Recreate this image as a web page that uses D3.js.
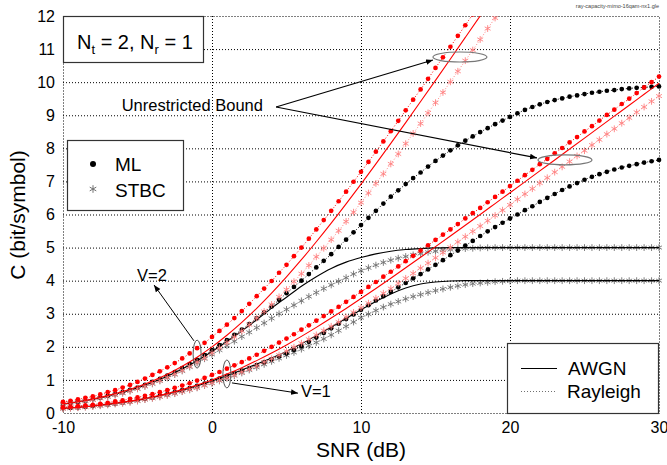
<!DOCTYPE html>
<html><head><meta charset="utf-8">
<script src="https://cdn.jsdelivr.net/npm/d3@7"></script>
<style>
body{margin:0;background:#fff}
svg{display:block}
text{font-family:"Liberation Sans",Arial,Helvetica,sans-serif}
</style>
</head><body>
<svg id="chart" width="667" height="465"></svg>
<script>
// ---------- data ----------
const snrFine = [-10,-9.5,-9,-8.5,-8,-7.5,-7,-6.5,-6,-5.5,-5,-4.5,-4,-3.5,-3,-2.5,-2,-1.5,-1,-0.5,0,0.5,1,1.5,2,2.5,3,3.5,4,4.5,5,5.5,6,6.5,7,7.5,8,8.5,9,9.5,10,10.5,11,11.5,12,12.5,13,13.5,14,14.5,15,15.5,16,16.5,17,17.5,18,18.5,19,19.5,20,20.5,21,21.5,22,22.5,23,23.5,24,24.5,25,25.5,26,26.5,27,27.5,28,28.5,29,29.5,30];
const snrCoarse = [-10,-9,-8,-7,-6,-5,-4,-3,-2,-1,0,1,2,3,4,5,6,7,8,9,10,11,12,13,14,15,16,17,18,19,20,21,22,23,24,25,26,27,28,29,30];
const xTicks = [-10,0,10,20,30];
const yTicks = [0,1,2,3,4,5,6,7,8,9,10,11,12];

// Unrestricted bounds
const awgnBoundV1 = [0.138,0.171,0.212,0.263,0.324,0.396,0.483,0.586,0.706,0.844,1.0,1.176,1.370,1.583,1.812,2.057,2.316,2.588,2.870,3.161,3.459,3.764,4.075,4.389,4.707,5.028,5.351,5.676,6.002,6.330,6.658,6.987,7.317,7.648,7.978,8.309,8.641,8.972,9.303,9.635,9.967];
const awgnBoundV2 = [0.275,0.342,0.425,0.526,0.648,0.792,0.967,1.172,1.411,1.687,2.0,2.351,2.740,3.165,3.624,4.115,4.633,5.176,5.740,6.322,6.919,7.529,8.149,8.778,9.414,10.056,10.702,11.352,12.004,12.660];
const mlBoundV1 = [0.17,0.19,0.21,0.23,0.25,0.28,0.31,0.35,0.38,0.43,0.47,0.52,0.57,0.63,0.69,0.76,0.83,0.90,0.98,1.06,1.15,1.24,1.34,1.44,1.54,1.65,1.76,1.88,2.00,2.13,2.25,2.38,2.52,2.65,2.79,2.93,3.07,3.21,3.36,3.51,3.66,3.81,3.96,4.12,4.27,4.43,4.59,4.75,4.91,5.07,5.23,5.39,5.55,5.71,5.88,6.04,6.20,6.37,6.53,6.69,6.86,7.02,7.19,7.35,7.52,7.68,7.85,8.01,8.18,8.34,8.51,8.67,8.84,9.01,9.17,9.34,9.50,9.67,9.84,10.00,10.17];
const mlBoundV2 = [0.34,0.37,0.41,0.46,0.50,0.56,0.63,0.69,0.77,0.85,0.94,1.04,1.15,1.26,1.38,1.51,1.65,1.80,1.96,2.12,2.30,2.48,2.67,2.87,3.08,3.30,3.53,3.76,3.99,4.24,4.48,4.74,5.00,5.27,5.55,5.83,6.11,6.40,6.69,6.99,7.29,7.59,7.90,8.21,8.52,8.83,9.15,9.47,9.78,10.10,10.43,10.75,11.07,11.40,11.72,12.05,12.37];
const stbcBoundV1 = [0.13,0.15,0.16,0.18,0.20,0.22,0.25,0.28,0.30,0.33,0.37,0.41,0.45,0.49,0.54,0.59,0.65,0.71,0.77,0.84,0.91,0.99,1.07,1.15,1.24,1.33,1.43,1.54,1.64,1.75,1.87,1.99,2.11,2.23,2.36,2.49,2.62,2.75,2.90,3.04,3.18,3.32,3.47,3.62,3.76,3.92,4.07,4.22,4.38,4.53,4.69,4.85,5.01,5.17,5.33,5.49,5.65,5.81,5.97,6.13,6.29,6.46,6.62,6.78,6.95,7.11,7.28,7.44,7.60,7.77,7.93,8.10,8.26,8.43,8.59,8.76,8.92,9.09,9.25,9.42,9.58];
const stbcBoundV2 = [0.27,0.29,0.33,0.37,0.40,0.45,0.50,0.55,0.61,0.67,0.74,0.81,0.90,0.98,1.08,1.18,1.29,1.41,1.54,1.67,1.82,1.97,2.13,2.30,2.48,2.67,2.87,3.07,3.28,3.51,3.73,3.97,4.21,4.46,4.72,4.98,5.24,5.51,5.79,6.07,6.36,6.65,6.94,7.23,7.53,7.83,8.14,8.45,8.75,9.07,9.38,9.69,10.01,10.33,10.65,10.97,11.29,11.62,11.94,12.26];

// Constellation-constrained capacities
const awgnV1 = [0.135,0.17,0.21,0.26,0.32,0.39,0.475,0.575,0.69,0.82,0.97,1.13,1.3,1.48,1.66,1.86,2.09,2.34,2.6,2.86,3.12,3.37,3.6,3.78,3.9,3.96,3.99,4,4,4,4,4,4,4,4,4,4,4,4,4,4];
const awgnV2 = [0.27,0.335,0.415,0.51,0.625,0.76,0.92,1.11,1.33,1.58,1.86,2.16,2.48,2.82,3.17,3.5,3.83,4.12,4.37,4.56,4.7,4.81,4.89,4.94,4.97,4.99,5,5,5,5,5,5,5,5,5,5,5,5,5,5,5];
const mlV1 = [0.14,0.155,0.17,0.19,0.21,0.235,0.26,0.29,0.32,0.355,0.39,0.43,0.47,0.52,0.57,0.63,0.69,0.75,0.82,0.89,0.97,1.04,1.12,1.2,1.28,1.36,1.45,1.53,1.62,1.71,1.8,1.91,2.02,2.15,2.28,2.42,2.56,2.7,2.84,2.98,3.12,3.26,3.4,3.53,3.66,3.8,3.93,4.07,4.2,4.34,4.48,4.62,4.77,4.91,5.06,5.2,5.35,5.49,5.62,5.75,5.88,6.0,6.13,6.25,6.38,6.5,6.62,6.74,6.85,6.95,7.05,7.14,7.22,7.29,7.36,7.42,7.47,7.52,7.57,7.61,7.65];
const mlV2 = [0.27,0.30,0.335,0.375,0.42,0.465,0.515,0.57,0.63,0.70,0.77,0.85,0.94,1.03,1.13,1.24,1.36,1.48,1.61,1.75,1.9,2.05,2.2,2.36,2.52,2.69,2.86,3.04,3.22,3.42,3.62,3.81,4.0,4.2,4.4,4.6,4.8,5.02,5.24,5.46,5.68,5.9,6.11,6.33,6.54,6.73,6.92,7.1,7.27,7.45,7.62,7.78,7.94,8.09,8.23,8.36,8.49,8.61,8.73,8.84,8.95,9.06,9.16,9.25,9.33,9.4,9.46,9.51,9.56,9.6,9.64,9.68,9.71,9.74,9.76,9.79,9.81,9.83,9.84,9.86,9.87];
const stbcV1 = [0.132,0.146,0.162,0.18,0.2,0.222,0.248,0.275,0.3,0.33,0.365,0.405,0.445,0.49,0.535,0.585,0.645,0.7,0.76,0.83,0.9,0.97,1.05,1.13,1.21,1.3,1.38,1.47,1.56,1.65,1.74,1.83,1.93,2.03,2.13,2.24,2.36,2.49,2.62,2.75,2.88,2.99,3.1,3.2,3.29,3.37,3.45,3.52,3.58,3.64,3.7,3.75,3.8,3.84,3.88,3.91,3.93,3.95,3.97,3.98,3.99,4,4,4,4,4,4,4,4,4,4,4,4,4,4,4,4,4,4,4,4];
const stbcV2 = [0.265,0.295,0.325,0.36,0.4,0.445,0.49,0.545,0.6,0.665,0.73,0.805,0.88,0.97,1.06,1.16,1.27,1.39,1.51,1.64,1.77,1.9,2.04,2.17,2.31,2.44,2.58,2.72,2.86,3.0,3.13,3.26,3.39,3.52,3.64,3.76,3.87,3.98,4.09,4.2,4.3,4.39,4.47,4.55,4.62,4.68,4.73,4.78,4.82,4.86,4.89,4.92,4.94,4.96,4.97,4.98,4.99,4.995,5,5,5,5,5,5,5,5,5,5,5,5,5,5,5,5,5,5,5,5,5,5,5];

// Annotations (data coordinates)
const boundLabel = {text:"Unrestricted Bound", at:[-6.06,9.13], origin:[4.3,9.25]};
const boundTargets = [{end:[14.83,10.67], ring:[16.64,10.76]}, {end:[21.81,7.71], ring:[23.69,7.65]}];
const vLabels = [
  {text:"V=2", at:[-5.03,3.99], arrowFrom:[-1.21,2.18], arrowTo:[-3.89,3.87], ring:[-1.0,1.78]},
  {text:"V=1", at:[5.97,0.48], arrowFrom:[1.34,0.91], arrowTo:[5.77,0.6], ring:[1.0,1.18]}
];

// ---------- drawing ----------
const L = 63, R = 659, T = 16, B = 413;
const svg = d3.select("#chart");
const x = d3.scaleLinear().domain([-10,30]).range([L,R]);
const y = d3.scaleLinear().domain([0,12]).range([B,T]);
const FONT = '"Liberation Sans",Arial,Helvetica,sans-serif';

const defs = svg.append("defs");
defs.append("clipPath").attr("id","plotclip").append("rect")
  .attr("x",L-5).attr("y",T).attr("width",R-L+10).attr("height",B-T+5);
defs.append("marker").attr("id","arrow").attr("viewBox","0 0 10 10")
  .attr("refX",10).attr("refY",5).attr("markerWidth",7).attr("markerHeight",7)
  .attr("markerUnits","userSpaceOnUse").attr("orient","auto")
  .append("path").attr("d","M0,1 L10,5 L0,9 Z").attr("fill","#000");

// grid
const grid = svg.append("g").attr("stroke","#000").attr("stroke-width",1).attr("stroke-dasharray","1,2");
grid.selectAll(".hg").data(yTicks.filter(t=>t>0&&t<12)).join("line")
  .attr("x1",L).attr("x2",R).attr("y1",d=>y(d)+0.5).attr("y2",d=>y(d)+0.5);
grid.selectAll(".vg").data(xTicks.filter(t=>t>-10&&t<30)).join("line")
  .attr("y1",T).attr("y2",B).attr("x1",d=>x(d)+0.5).attr("x2",d=>x(d)+0.5);
grid.append("rect").attr("x",L+0.5).attr("y",T+0.5).attr("width",R-L).attr("height",B-T).attr("fill","none");

// axes
const yAx = svg.append("g").attr("transform",`translate(${L},0)`)
  .call(d3.axisLeft(y).tickValues(yTicks).tickSize(0).tickPadding(8).tickFormat(d=>String(d)));
const xAx = svg.append("g").attr("transform",`translate(0,${B})`)
  .call(d3.axisBottom(x).tickValues(xTicks).tickSize(0).tickPadding(9).tickFormat(d=>String(d)));
[yAx,xAx].forEach(g=>{
  g.select(".domain").remove();
  g.attr("font-family",FONT).attr("font-size",16);
  g.selectAll("text").attr("fill","#000");
});

svg.append("text").attr("x",361).attr("y",457).attr("text-anchor","middle")
  .attr("font-size",21).text("SNR (dB)");
svg.append("text").attr("transform","translate(25,215) rotate(-90)").attr("text-anchor","middle")
  .attr("font-size",21).text("C (bit/symbol)");
svg.append("text").attr("x",659).attr("y",8).attr("text-anchor","end")
  .attr("font-size",5.5).attr("fill","#444").text("ray-capacity-mimo-16qam-nx1.gle");

// series
const plot = svg.append("g").attr("clip-path","url(#plotclip)");
const lineGen = d3.line().x(d=>x(d[0])).y(d=>y(d[1])).curve(d3.curveMonotoneX);
const star = d3.symbol(d3.symbolAsterisk, 32);
const starLegend = d3.symbol(d3.symbolAsterisk, 40);

function series(xs, vals, o){
  const pts = vals.map((v,i)=>[xs[i], v]);
  plot.append("path").datum(pts).attr("d",lineGen).attr("fill","none")
    .attr("stroke",o.color).attr("stroke-width",o.width||1)
    .attr("stroke-dasharray",o.dash||null);
  if(o.marker==="dot"){
    plot.append("g").selectAll("circle").data(pts).join("circle")
      .attr("cx",d=>x(d[0])).attr("cy",d=>y(d[1])).attr("r",2.35).attr("fill",o.color);
  } else if(o.marker==="star"){
    plot.append("g").selectAll("path").data(pts).join("path")
      .attr("transform",d=>`translate(${x(d[0])},${y(d[1])})`)
      .attr("d",star).attr("fill","none").attr("stroke",o.color).attr("stroke-width",0.9);
  }
}

const RED = "#ff0000", PINK = "#ff8080", GREY = "#707070";
// constrained (black)
series(snrFine, stbcV1, {color:GREY, dash:"1,2", marker:"star"});
series(snrFine, stbcV2, {color:GREY, dash:"1,2", marker:"star"});
series(snrCoarse, awgnV1, {color:"#000", width:1.1});
series(snrCoarse, awgnV2, {color:"#000", width:1.1});
series(snrFine, mlV1, {color:"#000", dash:"1,2", marker:"dot"});
series(snrFine, mlV2, {color:"#000", dash:"1,2", marker:"dot"});
// unrestricted (red)
series(snrFine, stbcBoundV1, {color:PINK, dash:"1,2", marker:"star"});
series(snrFine, stbcBoundV2, {color:PINK, dash:"1,2", marker:"star"});
series(snrCoarse, awgnBoundV1, {color:RED, width:1.1});
series(snrCoarse, awgnBoundV2, {color:RED, width:1.1});
series(snrFine, mlBoundV1, {color:RED, dash:"1,2", marker:"dot"});
series(snrFine, mlBoundV2, {color:RED, dash:"1,2", marker:"dot"});

// annotations
const ann = svg.append("g");
ann.append("text").attr("x",x(boundLabel.at[0])).attr("y",y(boundLabel.at[1]))
  .attr("font-size",16.5).text(boundLabel.text);
boundTargets.forEach(t=>{
  ann.append("ellipse").attr("cx",x(t.ring[0])).attr("cy",y(t.ring[1]))
    .attr("rx",27).attr("ry",5).attr("fill","none").attr("stroke","#777").attr("stroke-width",1.2);
  ann.append("line").attr("x1",x(boundLabel.origin[0])).attr("y1",y(boundLabel.origin[1]))
    .attr("x2",x(t.end[0])).attr("y2",y(t.end[1])).attr("stroke","#000").attr("stroke-width",1.2)
    .attr("marker-end","url(#arrow)");
});
vLabels.forEach(v=>{
  ann.append("ellipse").attr("cx",x(v.ring[0])).attr("cy",y(v.ring[1]))
    .attr("rx",4).attr("ry",14).attr("fill","none").attr("stroke","#555").attr("stroke-width",1);
  ann.append("line").attr("x1",x(v.arrowFrom[0])).attr("y1",y(v.arrowFrom[1]))
    .attr("x2",x(v.arrowTo[0])).attr("y2",y(v.arrowTo[1])).attr("stroke","#000").attr("stroke-width",1)
    .attr("marker-end","url(#arrow)");
  ann.append("text").attr("x",x(v.at[0])).attr("y",y(v.at[1])).attr("font-size",16.5).text(v.text);
});

// legend boxes
const box1 = svg.append("g");
box1.append("rect").attr("x",63.5).attr("y",16.5).attr("width",140).attr("height",46)
  .attr("fill","#fff").attr("stroke","#333").attr("stroke-width",1.2);
const t1 = box1.append("text").attr("x",77).attr("y",49).attr("font-size",20);
t1.append("tspan").text("N");
t1.append("tspan").attr("font-size",13).attr("dy",5).text("t");
t1.append("tspan").attr("dy",-5).text(" = 2, N");
t1.append("tspan").attr("font-size",13).attr("dy",5).text("r");
t1.append("tspan").attr("dy",-5).text(" = 1");

const box2 = svg.append("g");
box2.append("rect").attr("x",67.5).attr("y",140.5).attr("width",116).attr("height",70)
  .attr("fill","#fff").attr("stroke","#333").attr("stroke-width",1.2);
box2.append("circle").attr("cx",93).attr("cy",164).attr("r",3).attr("fill","#000");
box2.append("path").attr("transform","translate(93,189)").attr("d",starLegend)
  .attr("fill","none").attr("stroke",GREY).attr("stroke-width",1);
box2.append("text").attr("x",115).attr("y",171).attr("font-size",19).text("ML");
box2.append("text").attr("x",115).attr("y",197).attr("font-size",19).text("STBC");

const box3 = svg.append("g");
box3.append("rect").attr("x",507.5).attr("y",343.5).attr("width",151).attr("height",70)
  .attr("fill","#fff").attr("stroke","#333").attr("stroke-width",1.2);
box3.append("line").attr("x1",521).attr("x2",557).attr("y1",368.5).attr("y2",368.5)
  .attr("stroke","#000").attr("stroke-width",1);
box3.append("line").attr("x1",521).attr("x2",557).attr("y1",391.5).attr("y2",391.5)
  .attr("stroke",GREY).attr("stroke-width",1).attr("stroke-dasharray","1,2");
box3.append("text").attr("x",568).attr("y",375).attr("font-size",19).text("AWGN");
box3.append("text").attr("x",567).attr("y",398).attr("font-size",19).text("Rayleigh");
</script>
</body></html>
